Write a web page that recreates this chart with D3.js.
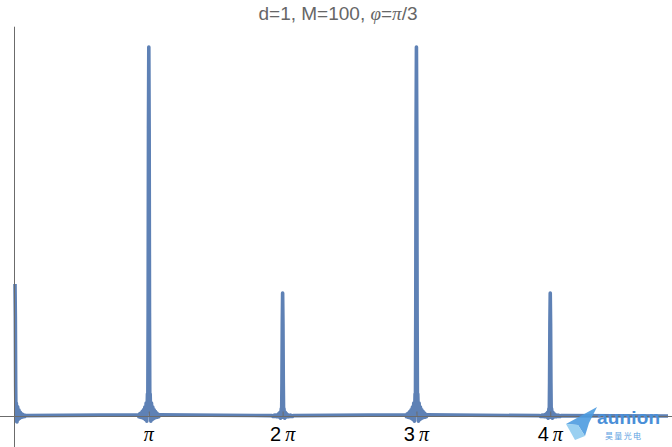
<!DOCTYPE html>
<html><head><meta charset="utf-8">
<script src="https://cdn.jsdelivr.net/npm/d3@7"></script>
<style>html,body{margin:0;padding:0;background:#fff;}svg{display:block;}</style>
</head><body>
<svg id="c" width="672" height="447"></svg>
<script>
// ---- data (x in multiples of π) ----
const titleText = "d=1, M=100, ";
const xTickValues = [1, 2, 3, 4];
const xTickDigits = ["", "2", "3", "4"];
const xEnd = 4.88;

const offsetsFull = [-0.08,-0.075,-0.07,-0.065,-0.06,-0.055,-0.05,-0.045,-0.04,-0.035,-0.03,-0.025,-0.02,-0.015,-0.01,-0.0075,-0.005,-0.0025,0,0.0025,0.005,0.0075,0.01,0.015,0.02,0.025,0.03,0.035,0.04,0.045,0.05,0.055,0.06,0.065,0.07,0.075,0.08];
const offsetsHalf = [0,0.0025,0.005,0.0075,0.01,0.015,0.02,0.025,0.03,0.035,0.04,0.045,0.05,0.055,0.06,0.065,0.07,0.075,0.08];

const peak0 = [0.358,0.27,0.08,-0.014,0.035,-0.016,0.025,-0.009,0.016,-0.006,0.01,-0.004,0.006,-0.003,0.004,-0.002,0.002,-0.001,0.001];
const peak1 = [0.003,-0.002,0.005,-0.003,0.008,-0.004,0.012,-0.005,0.017,-0.007,0.024,-0.01,0.035,-0.014,0.06,0.02,0.28,0.78,1.0,0.78,0.28,0.02,0.06,-0.014,0.035,-0.01,0.024,-0.007,0.017,-0.005,0.012,-0.004,0.008,-0.003,0.005,-0.002,0.003];
const peak2 = [0.001,-0.001,0.001,-0.001,0.002,-0.001,0.002,-0.002,0.003,-0.002,0.006,-0.003,0.01,-0.006,0.02,-0.004,0.09,0.25,0.333,0.25,0.09,-0.004,0.02,-0.006,0.01,-0.003,0.006,-0.002,0.003,-0.002,0.002,-0.001,0.002,-0.001,0.001,-0.001,0.001];
const peak3 = [0.003,-0.002,0.005,-0.003,0.008,-0.004,0.012,-0.005,0.017,-0.007,0.024,-0.01,0.035,-0.014,0.06,0.02,0.28,0.78,1.0,0.78,0.28,0.02,0.06,-0.014,0.035,-0.01,0.024,-0.007,0.017,-0.005,0.012,-0.004,0.008,-0.003,0.005,-0.002,0.003];
const peak4 = [0.001,-0.001,0.001,-0.001,0.002,-0.001,0.002,-0.002,0.003,-0.002,0.006,-0.003,0.01,-0.006,0.02,-0.004,0.09,0.25,0.333,0.25,0.09,-0.004,0.02,-0.006,0.01,-0.003,0.006,-0.002,0.003,-0.002,0.002,-0.001,0.002,-0.001,0.001,-0.001,0.001];

// ---- assemble series ----
const series = [];
offsetsHalf.forEach((o,i)=>series.push([0+o, peak0[i]]));
[[1,peak1],[2,peak2],[3,peak3],[4,peak4]].forEach(([c,arr])=>{
  offsetsFull.forEach((o,i)=>series.push([c+o, arr[i]]));
});
series.push([xEnd, 0]);

const svg = d3.select("#c");
const x = d3.scaleLinear().domain([0, xEnd]).range([15, 668]);
const y = d3.scaleLinear().domain([0, 1]).range([416, 47]);

// curve
const line = d3.line().x(d=>x(d[0])).y(d=>y(d[1]));
svg.append("path").datum(series)
  .attr("d", line)
  .attr("fill","none")
  .attr("stroke","#5E81B5")
  .attr("stroke-width",3.6)
  .attr("stroke-linejoin","round");

// axes lines
const axisColor = "#6b6b6b";
svg.append("line").attr("x1",0).attr("x2",672).attr("y1",y(0)+0.5).attr("y2",y(0)+0.5)
  .attr("stroke",axisColor).attr("stroke-width",1);
svg.append("line").attr("x1",x(0)-0.5).attr("x2",x(0)-0.5).attr("y1",y(1.055)).attr("y2",447)
  .attr("stroke",axisColor).attr("stroke-width",1);

// x ticks
const xAxis = d3.axisBottom(x).tickValues(xTickValues).tickSizeInner(-5).tickSizeOuter(0).tickFormat(()=>"");
const gx = svg.append("g").attr("transform",`translate(0,${y(0)+0.5})`).call(xAxis);
gx.select(".domain").remove();
gx.selectAll(".tick line").attr("stroke",axisColor);

// tick labels
const lab = svg.append("g");
xTickValues.forEach((v,i)=>{
  const t = lab.append("text").attr("x", x(v)).attr("y", 441)
    .attr("text-anchor","middle").attr("fill","#000").attr("font-size",20);
  if (xTickDigits[i]) t.append("tspan").attr("font-family","Liberation Sans, Arial, sans-serif").text(xTickDigits[i] + "\u2009");
  t.append("tspan").attr("font-family","Liberation Serif, Times New Roman, serif").attr("font-style","italic").text("π");
});

// title
const tt = svg.append("text").attr("x",338).attr("y",20).attr("text-anchor","middle")
  .attr("fill","#666").attr("font-size",19).attr("font-family","Liberation Sans, Arial, sans-serif");
tt.append("tspan").text(titleText);
tt.append("tspan").attr("font-style","italic").attr("font-family","Liberation Serif, serif").text("φ");
tt.append("tspan").text("=");
tt.append("tspan").attr("font-family","Liberation Serif, serif").attr("font-style","italic").text("π");
tt.append("tspan").text("/3");

// watermark logo
const wm = svg.append("g");
wm.append("polygon").attr("points","597,407 566,424 578,425 585,436 589,423").attr("fill","#4d9be0").attr("opacity",0.9);
wm.append("polygon").attr("points","566,424 578,425 585,436 575,440").attr("fill","#8fcbef").attr("opacity",0.9);
wm.append("text").attr("x",597).attr("y",424).attr("font-size",19).attr("font-weight","bold")
  .attr("font-family","Liberation Sans, Arial, sans-serif").attr("fill","#4a8fd8").attr("textLength",63).text("aunion");
wm.append("text").attr("x",605).attr("y",439).attr("font-size",8)
  .attr("font-family","Noto Sans CJK SC, sans-serif").attr("fill","#5da2df").attr("textLength",36).text("昊量光电");
</script>
</body></html>
